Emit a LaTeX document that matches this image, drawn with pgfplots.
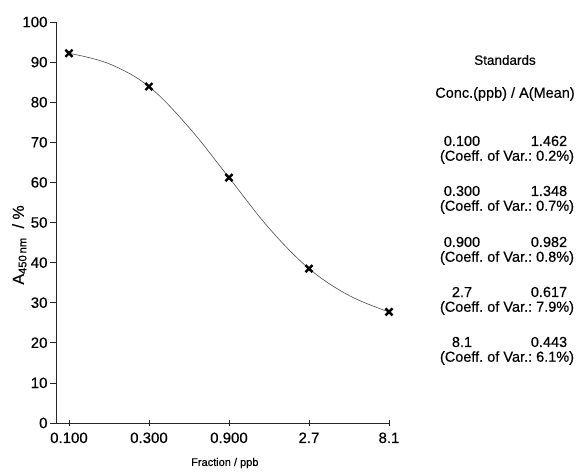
\documentclass[border=0pt]{standalone}
\usepackage{fontspec}
\setmainfont{Liberation Sans}[FakeBold=0.4]
\usepackage{pgfplots}
\pgfplotsset{compat=1.18}
\frenchspacing
\begin{document}
\begin{tikzpicture}[x=1pt,y=1pt]
\path[use as bounding box] (0,0) rectangle (582,473);
\begin{axis}[
    at={(56pt,50pt)}, anchor=south west,
    scale only axis, width=333pt, height=401pt,
    xmode=log, xmin=0.0837, xmax=8.1,
    ymin=0, ymax=100,
    axis lines*=left,
    axis line style={-, line width=0.7pt, black!85},
    xtick={0.1,0.3,0.9,2.7,8.1},
    xticklabels={0.100,0.300,0.900,2.7,8.1},
    minor xtick={},
    ytick={0,10,...,100},
    xtick align=center, ytick align=outside,
    major tick length=6pt,
    tick style={line width=0.7pt, black!85},
    /pgf/number format/assume math mode=true,
    tick label style={font=\fontsize{15}{17}\selectfont},
    xticklabel style={yshift=-3pt},
    yticklabel style={xshift=1pt},
    xlabel={Fraction / ppb},
    ylabel={A\textsubscript{450\,nm}\ \ / \%},
    xlabel style={font=\fontsize{11}{13}\selectfont, at={(axis description cs:0.507,-0.10)}, anchor=center},
    ylabel style={font=\fontsize{16}{18}\selectfont, at={(axis description cs:-0.11,0.444)}, anchor=center},
    clip=false,
]
% fitted curve
\addplot[gray!60!black, line width=0.6pt, smooth, tension=0.6] coordinates {
  (0.1,92.2) (0.1732,89.6) (0.3,83.9) (0.5196,73.7) (0.9,61.2)
  (1.559,48.6) (2.7,38.5) (4.677,31.8) (8.1,27.7)
};
% standards
\addplot[only marks, mark=x, mark size=5pt, black,
         mark options={line width=2.4pt, solid}] coordinates {
  (0.1,92.2) (0.3,83.9) (0.9,61.2) (2.7,38.5) (8.1,27.7)
};
\end{axis}
\begin{scope}[every node/.style={font=\fontsize{14.5}{17}\selectfont, inner sep=0pt}]
\node at (505,413) {\fontsize{13.5}{15}\selectfont Standards};
\node at (505,379) {Conc.(ppb) / A(Mean)};
\foreach \c/\a/\v/\y in {0.100/1.462/0.2/330, 0.300/1.348/0.7/280, 0.900/0.982/0.8/229, 2.7/0.617/7.9/179, 8.1/0.443/6.1/129} {
  \node at (462,\y+2) {\c};
  \node at (549,\y+2) {\a};
  \node at (507,\y-14) {(Coeff. of Var.: \v\%)};
}
\end{scope}
\end{tikzpicture}
\end{document}
